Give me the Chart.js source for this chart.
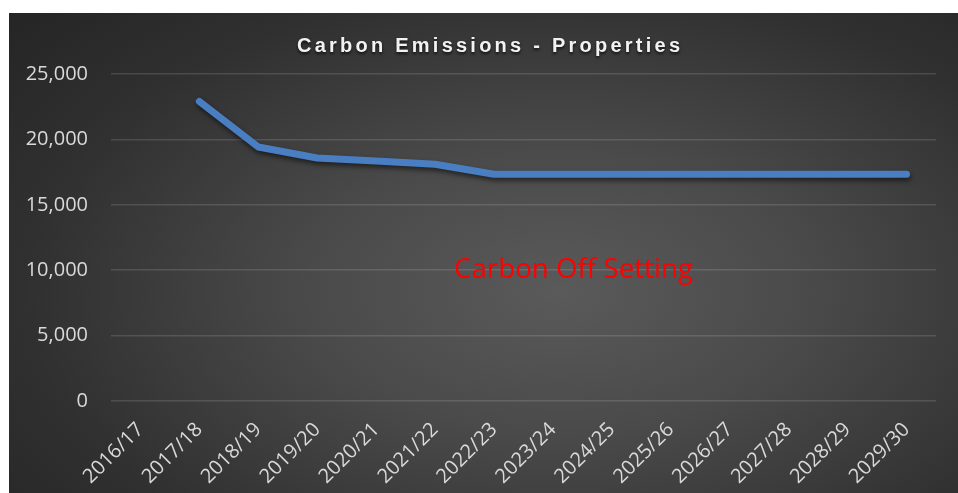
<!DOCTYPE html>
<html>
<head>
<meta charset="utf-8">
<script src="https://cdn.jsdelivr.net/npm/chart.js@4.4.1/dist/chart.umd.min.js"></script>
<style>
  html, body { margin: 0; padding: 0; background: #ffffff; }
  body { width: 958px; height: 493px; position: relative; overflow: hidden; }
  #wrap {
    position: absolute; left: 9px; top: 13px; width: 949px; height: 480px;
    background: radial-gradient(ellipse 75% 85% at 58% 58%, #5a5a5a 0%, #4a4a4a 35%, #303030 75%, #262626 100%);
  }
  canvas { display: block; }
</style>
</head>
<body>
<div id="wrap"><canvas id="c" width="949" height="480"></canvas></div>
<script>
const chartTitle = 'Carbon Emissions - Properties';
const annotationText = 'Carbon Off Setting';
const categories = ['2016/17','2017/18','2018/19','2019/20','2020/21','2021/22','2022/23','2023/24','2024/25','2025/26','2026/27','2027/28','2028/29','2029/30'];
const emissions = [null, 22900, 19420, 18580, 18350, 18100, 17330, 17330, 17330, 17330, 17330, 17330, 17330, 17330];
const yTicks = [0, 5000, 10000, 15000, 20000, 25000];

const overlay = {
  id: 'overlay',
  beforeDatasetsDraw(chart) {
    const ctx = chart.ctx;
    ctx.save();
    ctx.shadowColor = 'rgba(0,0,0,0.55)';
    ctx.shadowBlur = 5;
    ctx.shadowOffsetY = 3;
    ctx.shadowOffsetX = 1;
  },
  afterDatasetsDraw(chart) {
    chart.ctx.restore();
  },
  afterDraw(chart) {
    const ctx = chart.ctx;
    ctx.save();
    ctx.font = 'bold 20px "Liberation Sans", Arial, sans-serif';
    ctx.letterSpacing = '0px';
    const w0 = ctx.measureText(chartTitle).width;
    const sp = (383 - w0) / (chartTitle.length - 1);
    ctx.letterSpacing = sp + 'px';
    ctx.fillStyle = '#f2f2f2';
    ctx.textBaseline = 'alphabetic';
    ctx.textAlign = 'left';
    ctx.shadowColor = 'rgba(0,0,0,0.7)';
    ctx.shadowBlur = 3;
    ctx.shadowOffsetY = 2;
    ctx.fillText(chartTitle, 288, 39);
    ctx.restore();

    ctx.save();
    ctx.font = '28px "Open Sans", sans-serif';
    ctx.fillStyle = '#ff0000';
    ctx.textAlign = 'left';
    ctx.textBaseline = 'alphabetic';
    const tw = ctx.measureText(annotationText).width;
    const scaleX = 239 / tw;
    ctx.translate(445, 265);
    ctx.scale(scaleX, 1);
    ctx.fillText(annotationText, 0, 0);
    ctx.restore();
  }
};

new Chart(document.getElementById('c'), {
  type: 'line',
  data: {
    labels: categories,
    datasets: [{
      data: emissions,
      borderColor: '#4a7ec3',
      borderWidth: 7,
      borderCapStyle: 'round',
      borderJoinStyle: 'round',
      pointRadius: 0,
      tension: 0,
      fill: false
    }]
  },
  options: {
    responsive: false,
    animation: false,
    devicePixelRatio: 1,
    layout: { padding: { left: 0, right: 22, top: 61, bottom: 0 } },
    plugins: { legend: { display: false }, tooltip: { enabled: false }, title: { display: false } },
    scales: {
      x: {
        offset: true,
        grid: { display: false, drawTicks: false },
        border: { display: false },
        ticks: {
          color: '#d9d9d9',
          font: { family: '"Open Sans", sans-serif', size: 20 },
          minRotation: 45, maxRotation: 45,
          autoSkip: false,
          padding: 17
        },
        afterFit(s) { s.height = 92; }
      },
      y: {
        min: 0, max: 25000,
        afterBuildTicks(s) { s.ticks = yTicks.map(v => ({ value: v })); },
        grid: { color: 'rgba(255,255,255,0.13)', lineWidth: 1.5, drawTicks: false },
        border: { display: false },
        ticks: {
          color: '#d9d9d9',
          font: { family: '"Open Sans", sans-serif', size: 20 },
          padding: 23,
          callback: v => v.toLocaleString('en-US')
        },
        afterFit(s) { s.width = 102; }
      }
    }
  },
  plugins: [overlay]
});
</script>
</body>
</html>
